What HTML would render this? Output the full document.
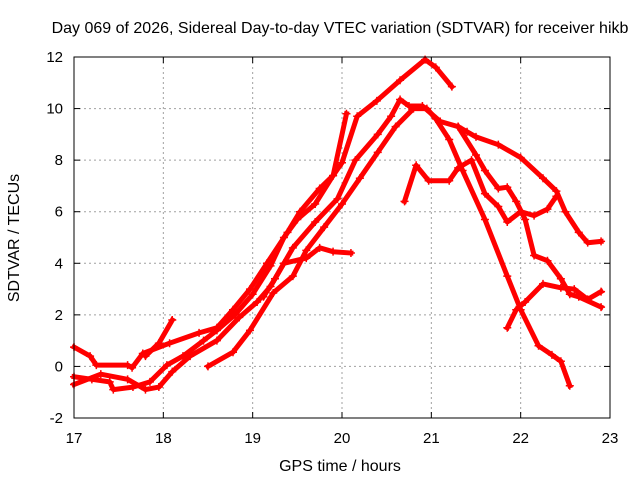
<!DOCTYPE html>
<html><head><meta charset="utf-8"><style>
body{margin:0;background:#fff}
svg{display:block;font-family:"Liberation Sans",sans-serif}
</style></head><body>
<svg id="chart" width="640" height="480">
<rect width="640" height="480" fill="#fff"/>
<text x="340" y="33" font-size="16" text-anchor="middle">Day 069 of 2026, Sidereal Day-to-day VTEC variation (SDTVAR) for receiver hikb</text>
<text x="340" y="471" font-size="16" text-anchor="middle">GPS time / hours</text>
<text x="19" y="238" font-size="16" text-anchor="middle" transform="rotate(-90 19 238)">SDTVAR / TECUs</text>
<g id="grid"></g><g id="ticks"></g><g id="series"></g>
<rect x="74" y="57" width="536" height="361" fill="none" stroke="#000" stroke-width="1"/>
</svg>
<script>
const xTicks=[17,18,19,20,21,22,23];
const yTicks=[-2,0,2,4,6,8,10,12];
const seriesNames=['trace-a','trace-b','trace-c','trace-d','trace-e','trace-f','trace-g','trace-h','trace-i'];
const sA=[[17.0,0.75],[17.18,0.4],[17.25,0.05],[17.6,0.05],[17.65,-0.05],[17.77,0.5],[18.07,0.9],[18.4,1.3],[18.6,1.5],[18.78,2.2],[18.97,3.0],[19.16,4.0],[19.39,5.2],[19.53,6.0],[19.75,6.9],[19.9,7.4],[20.0,7.9],[20.17,9.7],[20.39,10.3],[20.65,11.1],[20.93,11.9],[21.05,11.6],[21.23,10.85]];
const sB=[[17.8,0.4],[17.95,0.9],[18.1,1.8]];
const sC=[[17.0,-0.4],[17.2,-0.5],[17.4,-0.6],[17.44,-0.9],[17.66,-0.8],[17.85,-0.6],[18.04,0.05],[18.22,0.4],[18.45,1.0],[18.6,1.4],[18.8,2.0],[19.0,2.8],[19.2,3.9],[19.35,5.0],[19.5,5.7],[19.7,6.3],[19.9,7.4],[20.05,9.8]];
const sD=[[17.0,-0.7],[17.3,-0.3],[17.6,-0.5],[17.8,-0.9],[17.95,-0.8],[18.1,-0.2],[18.3,0.4],[18.6,1.0],[18.85,1.9],[19.05,2.5],[19.2,3.1],[19.45,4.6],[19.7,5.6],[19.95,6.5],[20.15,8.0],[20.4,9.0],[20.55,9.7],[20.65,10.35],[20.75,10.1],[20.9,10.1],[21.1,9.5],[21.3,9.3],[21.4,9.1],[21.5,8.9],[21.75,8.6],[22.0,8.1],[22.25,7.3],[22.4,6.8],[22.5,6.0],[22.65,5.2],[22.75,4.8],[22.9,4.85]];
const sE=[[21.3,9.3],[21.5,8.2],[21.6,7.6],[21.75,6.9],[21.85,6.95],[21.95,6.4],[22.05,5.7],[22.15,4.3],[22.3,4.1],[22.45,3.4],[22.55,2.8],[22.65,2.7],[22.9,2.3]];
const sF=[[18.5,0.0],[18.78,0.55],[18.97,1.4],[19.23,2.85],[19.45,3.5],[19.6,4.5],[19.8,5.4],[20.0,6.3],[20.2,7.3],[20.4,8.3],[20.6,9.3],[20.8,10.0],[20.95,10.0],[21.05,9.6],[21.2,8.8],[21.35,7.6],[21.6,5.7],[21.85,3.5],[22.0,2.2],[22.2,0.8],[22.35,0.45],[22.45,0.2],[22.55,-0.75]];
const sG=[[19.12,2.7],[19.25,3.4],[19.35,4.0],[19.6,4.2],[19.75,4.6],[19.9,4.45],[20.1,4.4]];
const sH=[[20.7,6.4],[20.83,7.8],[20.97,7.2],[21.2,7.2],[21.3,7.7],[21.45,8.0],[21.6,6.7],[21.75,6.2],[21.85,5.6],[22.0,6.0],[22.15,5.85],[22.3,6.1],[22.4,6.6]];
const sI=[[21.85,1.5],[21.95,2.2],[22.05,2.5],[22.25,3.2],[22.45,3.05],[22.6,3.0],[22.75,2.6],[22.9,2.9]];
const allSeries=[sA,sB,sC,sD,sE,sF,sG,sH,sI];
const NS='http://www.w3.org/2000/svg';
const X0=74,X1=610,Y0=418,Y1=57;
function xs(v){return X0+(v-17)/6*(X1-X0);}
function ys(v){return Y0-(v+2)/14*(Y0-Y1);}
function mk(t,a,p){const e=document.createElementNS(NS,t);for(const k in a)e.setAttribute(k,a[k]);p.appendChild(e);return e;}
const grid=document.getElementById('grid'),ticks=document.getElementById('ticks'),ser=document.getElementById('series');
xTicks.forEach(v=>{const x=xs(v);
 if(v>17&&v<23){const g=mk('line',{x1:x,x2:x,y1:Y1,y2:Y0,stroke:'#a0a0a0','stroke-dasharray':'2,3'},grid);
 
 }
 mk('line',{x1:x,x2:x,y1:Y0,y2:Y0-6,stroke:'#000'},ticks);mk('line',{x1:x,x2:x,y1:Y1,y2:Y1+6,stroke:'#000'},ticks);
 const t=mk('text',{x:x,y:443,'font-size':15,'text-anchor':'middle'},ticks);t.textContent=v;
 
 });
yTicks.forEach(v=>{const y=ys(v);
 if(v>-2&&v<12){const g=mk('line',{x1:X0,x2:X1,y1:y,y2:y,stroke:'#a0a0a0','stroke-dasharray':'2,3'},grid);
 
 }
 mk('line',{x1:X0,x2:X0+6,y1:y,y2:y,stroke:'#000'},ticks);mk('line',{x1:X1,x2:X1-6,y1:y,y2:y,stroke:'#000'},ticks);
 const t=mk('text',{x:63,y:y+5,'font-size':15,'text-anchor':'end'},ticks);t.textContent=v;
 
 });
allSeries.forEach((s,i)=>{
 const pts=s.map(p=>xs(p[0]).toFixed(1)+','+ys(p[1]).toFixed(1)).join(' ');
 const pl=mk('polyline',{points:pts,fill:'none',stroke:'#ff0000','stroke-width':5,'stroke-linejoin':'round','stroke-linecap':'square'},ser);
 
 
 s.forEach(p=>{const x=xs(p[0]),y=ys(p[1]);
  mk('path',{d:`M${x-4},${y}h8M${x},${y-4}v8`,stroke:'#ff0000','stroke-width':1.5},ser);});
});
</script>
</body></html>
